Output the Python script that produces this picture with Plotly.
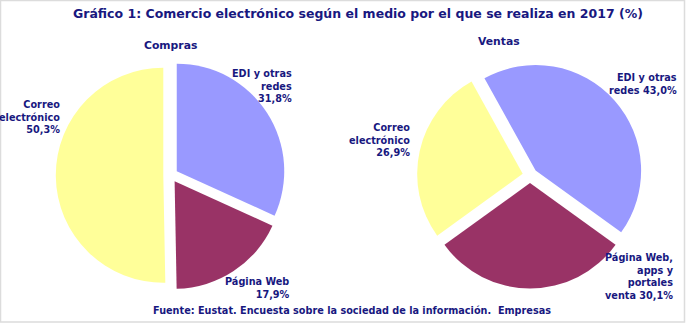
import plotly.graph_objects as go

# ---- data ----
categories = ["EDI y otras redes", "Página Web", "Correo electrónico"]
compras_labels = ["EDI y otras<br>redes<br>{v}%", "Página Web<br>{v}%", "Correo<br>electrónico<br>{v}%"]
compras_values = [31.8, 17.9, 50.3]
ventas_labels = ["EDI y otras<br>redes {v}%", "Página Web,<br>apps y<br>portales<br>venta {v}%", "Correo<br>electrónico<br>{v}%"]
ventas_values = [43.0, 30.1, 26.9]
colors = ["#9999FF", "#993366", "#FFFF99"]

title_text = "Gráfico 1: Comercio electrónico según el medio por el que se realiza en 2017 (%)"
source_text = "Fuente: Eustat. Encuesta sobre la sociedad de la información.  Empresas"

W, H = 686, 323
TXT = "#18187f"
FONT = "DejaVu Sans"


def fmt(v):
    return f"{v:.1f}".replace(".", ",")


def px(x):
    return x / W


def py(y):
    return 1 - y / H


fig = go.Figure()

fig.add_trace(go.Pie(
    values=compras_values, labels=categories, sort=False, direction="clockwise",
    rotation=0, pull=[0.068, 0.068, 0.068],
    marker=dict(colors=colors, line=dict(width=0)),
    textinfo="none", hoverinfo="skip", showlegend=False,
    domain=dict(x=[px(55.8), px(285.4)], y=[py(289.9), py(60.3)]),
))
fig.add_trace(go.Pie(
    values=ventas_values, labels=categories, sort=False, direction="clockwise",
    rotation=-29, pull=[0.071, 0.071, 0.071],
    marker=dict(colors=colors, line=dict(width=0)),
    textinfo="none", hoverinfo="skip", showlegend=False,
    domain=dict(x=[px(417), px(643)], y=[py(288.5), py(62.5)]),
))

annotations = []


def ann(text, x, y, size, xanchor="right", yanchor="top", align="right"):
    annotations.append(dict(
        text=text, x=px(x), y=py(y), xref="paper", yref="paper",
        xanchor=xanchor, yanchor=yanchor, align=align, showarrow=False,
        font=dict(family=FONT, size=size, color=TXT, weight="bold"),
    ))


# slice labels (positions per slice, text from data)
compras_pos = [(294, 66), (292, 274), (62, 97)]
ventas_pos = [(679, 70), (676, 250), (412, 120)]
for lab, v, (x, y) in zip(compras_labels, compras_values, compras_pos):
    ann(lab.format(v=fmt(v)), x, y, 9.7)
for lab, v, (x, y) in zip(ventas_labels, ventas_values, ventas_pos):
    ann(lab.format(v=fmt(v)), x, y, 9.7)

ann(title_text, 358, 13, 12.5, xanchor="center", yanchor="middle", align="center")
ann("Compras", 170, 46, 10.8, xanchor="center", yanchor="middle", align="center")
ann("Ventas", 499, 41, 10.8, xanchor="center", yanchor="middle", align="center")
ann(source_text, 352, 310, 9.7, xanchor="center", yanchor="middle", align="center")

fig.update_layout(
    width=W, height=H,
    margin=dict(l=0, r=0, t=0, b=0),
    paper_bgcolor="white", plot_bgcolor="white",
    annotations=annotations,
    shapes=[dict(type="rect", xref="paper", yref="paper",
                 x0=px(0.5), x1=px(684.5), y0=py(322), y1=py(0.5),
                 line=dict(color="#dcdcdc", width=1.5))],
)

fig.write_html("out.html")
